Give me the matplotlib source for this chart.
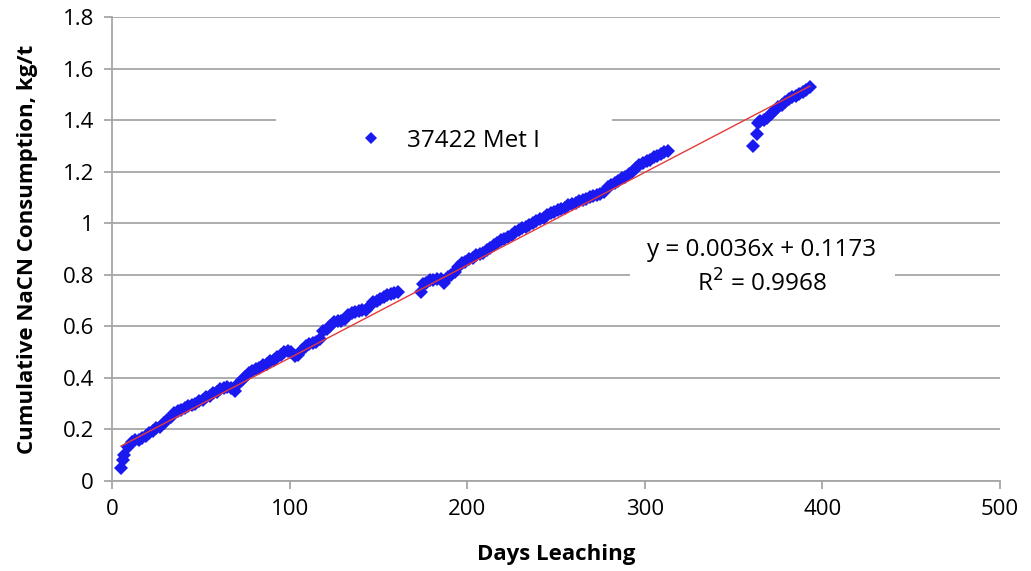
import matplotlib
matplotlib.use("Agg")
import matplotlib.pyplot as plt
from matplotlib.patches import Rectangle
import numpy as np

plt.rcParams['font.family'] = ['Open Sans', 'DejaVu Sans']

# Cumulative NaCN consumption (kg/t) against days of leaching
days = [
    5, 6, 7, 9, 11, 13, 15, 17, 19, 21, 23, 25, 27, 29, 31, 33, 35, 37, 39, 41,
    43, 45, 47, 49, 51, 53, 55, 57, 59, 61, 63, 65, 67, 69, 71, 73, 75, 77, 79, 81,
    83, 85, 87, 89, 91, 93, 95, 97, 99, 101, 103, 105, 107, 109, 111, 113, 115, 117, 119, 121,
    123, 125, 127, 129, 131, 133, 135, 137, 139, 141, 143, 145, 147, 149, 151, 153, 155, 157, 159, 161,
    174, 175, 177, 179, 181, 183, 185, 187, 189, 191, 193, 195, 197, 199, 201, 203, 205, 207, 209, 211,
    213, 215, 217, 219, 221, 223, 225, 227, 229, 231, 233, 235, 237, 239, 241, 243, 245, 247, 249, 251,
    253, 255, 257, 259, 261, 263, 265, 267, 269, 271, 273, 275, 277, 279, 281, 283, 285, 287, 289, 291,
    293, 295, 297, 299, 301, 303, 305, 307, 309, 311, 313,
    361, 363, 364, 365, 367, 369, 371, 373, 375, 377, 379, 381, 383, 385, 387, 389, 391, 393,
]
consumption = [
    0.05, 0.08, 0.10, 0.13, 0.15, 0.16, 0.16, 0.165, 0.175, 0.185, 0.195, 0.205, 0.21, 0.225, 0.235, 0.25, 0.265, 0.27, 0.275, 0.285,
    0.29, 0.295, 0.30, 0.31, 0.315, 0.325, 0.33, 0.34, 0.345, 0.355, 0.36, 0.365, 0.36, 0.35, 0.375, 0.39, 0.405, 0.42, 0.425, 0.435,
    0.44, 0.45, 0.455, 0.465, 0.47, 0.48, 0.49, 0.50, 0.505, 0.50, 0.485, 0.49, 0.51, 0.525, 0.53, 0.535, 0.54, 0.55, 0.58, 0.59,
    0.60, 0.615, 0.62, 0.62, 0.63, 0.645, 0.65, 0.655, 0.66, 0.665, 0.665, 0.68, 0.695, 0.70, 0.705, 0.715, 0.72, 0.725, 0.73, 0.735,
    0.735, 0.765, 0.77, 0.78, 0.78, 0.785, 0.785, 0.77, 0.79, 0.80, 0.81, 0.83, 0.845, 0.85, 0.86, 0.865, 0.875, 0.88, 0.885, 0.895,
    0.905, 0.915, 0.925, 0.935, 0.94, 0.945, 0.955, 0.965, 0.975, 0.98, 0.985, 0.995, 1.00, 1.01, 1.015, 1.02, 1.03, 1.04, 1.045, 1.05,
    1.055, 1.06, 1.07, 1.075, 1.08, 1.085, 1.09, 1.095, 1.10, 1.105, 1.11, 1.115, 1.12, 1.14, 1.15, 1.155, 1.165, 1.175, 1.18, 1.19,
    1.20, 1.215, 1.225, 1.235, 1.24, 1.245, 1.255, 1.26, 1.27, 1.275, 1.28,
    1.30, 1.345, 1.39, 1.395, 1.40, 1.41, 1.425, 1.435, 1.45, 1.46, 1.47, 1.48, 1.49, 1.495, 1.50, 1.51, 1.515, 1.53,
]

# Linear trendline as reported on the chart
slope = 0.0036
intercept = 0.1173
r_squared = 0.9968
series_name = "37422 Met I"

x_ticks = [0, 100, 200, 300, 400, 500]
y_ticks = [0, 0.2, 0.4, 0.6, 0.8, 1, 1.2, 1.4, 1.6, 1.8]
y_tick_labels = ["0", "0.2", "0.4", "0.6", "0.8", "1", "1.2", "1.4", "1.6", "1.8"]

grid_col = "#a6a6a6"

fig = plt.figure(figsize=(10.31, 5.71), dpi=100)
ax = fig.add_axes([112 / 1031, 90 / 571, 888 / 1031, 464 / 571])

ax.set_xlim(0, 500)
ax.set_ylim(0, 1.8)
ax.set_xticks(x_ticks)
ax.set_yticks(y_ticks)
ax.set_yticklabels(y_tick_labels)

ax.grid(axis="y", color=grid_col, linewidth=1.3, zorder=0)
ax.set_axisbelow(True)
for side in ("top", "right"):
    ax.spines[side].set_visible(False)
for side in ("left", "bottom"):
    ax.spines[side].set_color(grid_col)
    ax.spines[side].set_linewidth(1.3)
ax.tick_params(axis="both", direction="out", length=6, width=1.3, color=grid_col,
               labelsize=16, pad=7, labelcolor="black")

# White boxes behind the legend and the equation, hiding the gridlines there
ax.add_patch(Rectangle((0.185, 0.681), 0.378, 0.105, transform=ax.transAxes,
                       facecolor="white", edgecolor="none", zorder=1))
ax.add_patch(Rectangle((0.583, 0.390), 0.299, 0.147, transform=ax.transAxes,
                       facecolor="white", edgecolor="none", zorder=1))

ax.plot(days, consumption, linestyle="none", marker="D", markersize=7.4,
        color="#1a1af0", markeredgewidth=0, label=series_name, zorder=3)

fit_x = np.array([min(days), max(days)])
ax.plot(fit_x, slope * fit_x + intercept, color="#e8393a", linewidth=1.0, zorder=4)

ax.legend(loc="center", bbox_to_anchor=(0.380, 0.733), frameon=False,
          fontsize=17.5, handlelength=1.0, handletextpad=1.0, markerscale=0.8)

ax.text(0.732, 0.497, f"y = {slope:.4f}x + {intercept:.4f}", transform=ax.transAxes,
        ha="center", va="center", fontsize=17.5, zorder=5)
ax.text(0.732, 0.424, f"R$^2$ = {r_squared:.4f}", transform=ax.transAxes,
        ha="center", va="center", fontsize=17.5, zorder=5)

ax.set_xlabel("Days Leaching", fontsize=16, fontweight="bold", labelpad=17)
ax.set_ylabel("Cumulative NaCN Consumption, kg/t", fontsize=16, fontweight="bold", labelpad=18)

fig.savefig("out.png", dpi=100, facecolor="white")
